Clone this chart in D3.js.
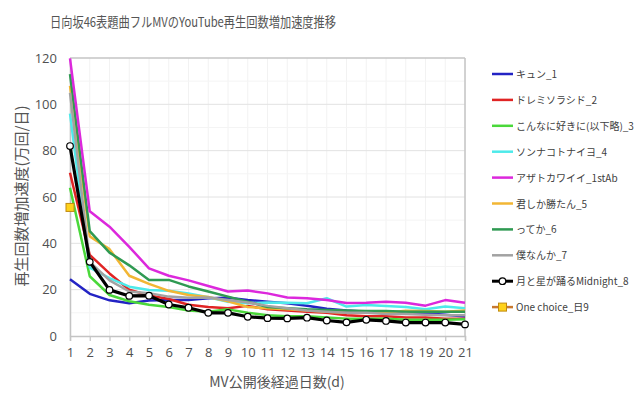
<!DOCTYPE html>
<html>
<head>
<meta charset="utf-8">
<script src="https://cdn.jsdelivr.net/npm/d3@7"></script>
<style>
  body { margin: 0; background: #fff; }
  text { font-family: "Noto Sans CJK JP", "Noto Sans", sans-serif; }
</style>
</head>
<body>
<script>
const WIDTH = 640;
const HEIGHT = 399;

// days after MV release
var days = d3.range(1, 22);
var yTicks = [0, 20, 40, 60, 80, 100, 120];

var names = ['キュン_1', 'ドレミソラシド_2', 'こんなに好きに(以下略)_3', 'ソンナコトナイヨ_4',
    'アザトカワイイ_1stAb', '君しか勝たん_5', 'ってか_6', '僕なんか_7',
    '月と星が踊るMidnight_8', 'One choice_日9'];
var colors = ['#2323c4', '#e02424', '#4ad83a', '#4eeaea', '#dc28dc', '#f2b634',
    '#2f9a52', '#a2a2a2', '#000000', '#c8782e'];

var kyun = [24.5, 18.2, 15.4, 14.1, 15.3, 15.5, 15.5, 16.3, 16.5, 15.5, 14.8, 14.1, 13.1, 11.8, 11.0, 10.5, 10.0, 9.8, 9.8, 9.2, 8.4];
var doremi = [70.5, 35, 27, 20, 17.5, 16, 13.5, 12.5, 12, 13, 11.5, 11, 10.5, 10, 9, 8.5, 8.5, 8, 8, 7.5, 7.5];
var konnani = [64, 25.8, 17.7, 15, 13.5, 12.5, 11, 10.5, 11.5, 10, 9, 8.5, 8.5, 8, 7.5, 7.5, 7.5, 7, 7, 7, 7.2];
var sonna = [96, 29.5, 25, 21.3, 19.9, 19.5, 18.4, 16.7, 14.8, 14.1, 14.5, 14.3, 14.1, 16.3, 12.7, 13.4, 12.9, 12.5, 11.5, 12.7, 12.0];
var azato = [119.8, 53.8, 47.2, 38.5, 29.2, 26, 24, 21.6, 19.2, 19.6, 18.4, 16.6, 16.3, 15.5, 14.2, 14.4, 14.8, 14.4, 13.1, 15.5, 14.4];
var kimishika = [108, 43, 37.5, 26, 22.5, 19.5, 17.7, 16.8, 15, 12.5, 12, 11.5, 11, 10.5, 10, 10, 10, 10.9, 10.8, 10.5, 11];
var tteka = [113, 45.3, 36, 30.5, 24.2, 24.2, 21.4, 19.2, 17, 14.8, 12.5, 12, 11.5, 11.2, 11, 10.8, 10.8, 10.5, 10.5, 10.5, 10.5];
var bokunanka = [105, 32, 24, 19.2, 18.5, 17, 16.5, 16.6, 15.5, 14.5, 13, 12, 11, 10.5, 10, 10, 9.5, 9.5, 9.2, 9, 9];
var tsukito = [82, 32, 19.9, 17.3, 17.4, 13.6, 12.2, 10, 10, 8.3, 7.7, 7.6, 7.9, 6.7, 5.9, 7, 6.5, 5.8, 5.8, 5.8, 5.0];
var onechoice = [55.5];

var seriesValues = [kyun, doremi, konnani, sonna, azato, kimishika, tteka, bokunanka, tsukito, onechoice];

var margin = { left: 70, right: 175, top: 58, bottom: 63 };

var svg = d3.select('body')
    .append('svg')
    .attr('width', WIDTH)
    .attr('height', HEIGHT);

var x = d3.scalePoint()
    .domain(days)
    .range([margin.left, WIDTH - margin.right]);

var y = d3.scaleLinear()
    .domain([0, 120])
    .range([HEIGHT - margin.bottom, margin.top]);

// title
svg.append('text')
    .attr('x', 50)
    .attr('y', 27)
    .attr('font-size', 13.5)
    .attr('fill', '#555')
    .attr('textLength', 286)
    .attr('lengthAdjust', 'spacingAndGlyphs')
    .text('日向坂46表題曲フルMVのYouTube再生回数増加速度推移');

// minor grid
svg.append('g')
    .selectAll('line')
    .data(days)
    .enter()
    .append('line')
    .attr('x1', function(d) { return x(d); })
    .attr('x2', function(d) { return x(d); })
    .attr('y1', y(0))
    .attr('y2', y(120))
    .attr('stroke', '#f2f2f2');

svg.append('g')
    .selectAll('line')
    .data(d3.range(10, 120, 20))
    .enter()
    .append('line')
    .attr('x1', x(1))
    .attr('x2', x(21))
    .attr('y1', function(d) { return y(d); })
    .attr('y2', function(d) { return y(d); })
    .attr('stroke', '#f4f4f4');

// major grid
svg.append('g')
    .selectAll('line')
    .data(yTicks.slice(1))
    .enter()
    .append('line')
    .attr('x1', x(1))
    .attr('x2', x(21))
    .attr('y1', function(d) { return y(d); })
    .attr('y2', function(d) { return y(d); })
    .attr('stroke', function(d) { return d === 120 ? '#c4c4c4' : '#e2e2e2'; })
    .attr('stroke-width', function(d) { return d === 120 ? 1.5 : 1; });

// right border
svg.append('line')
    .attr('x1', x(21)).attr('x2', x(21))
    .attr('y1', y(0)).attr('y2', y(120))
    .attr('stroke', '#c4c4c4')
    .attr('stroke-width', 1.5);

// y axis
var yAxis = svg.append('g')
    .attr('transform', 'translate(' + x(1) + ',0)')
    .call(d3.axisLeft(y).tickValues(yTicks).tickSize(0).tickPadding(13));
yAxis.select('.domain').attr('stroke', '#c4c4c4').attr('stroke-width', 1.5);
yAxis.selectAll('text')
    .attr('font-size', 13)
    .attr('fill', '#505050')
    .style('font-family', '"Open Sans", sans-serif');

// x axis
var xAxis = svg.append('g')
    .attr('transform', 'translate(0,' + y(0) + ')')
    .call(d3.axisBottom(x).tickSize(5).tickPadding(7));
xAxis.select('.domain').attr('stroke', '#c4c4c4').attr('stroke-width', 1.5);
xAxis.selectAll('.tick line').attr('stroke', '#c4c4c4').attr('stroke-width', 1.2);
xAxis.selectAll('text')
    .attr('font-size', 13)
    .attr('fill', '#505050')
    .style('font-family', '"Open Sans", sans-serif');

// axis titles
svg.append('text')
    .attr('x', 277)
    .attr('y', 387)
    .attr('text-anchor', 'middle')
    .attr('font-size', 14)
    .attr('fill', '#555')
    .text('MV公開後経過日数(d)');

svg.append('text')
    .attr('transform', 'translate(27,' + 196 + ') rotate(-90)')
    .attr('text-anchor', 'middle')
    .attr('font-size', 15)
    .attr('fill', '#555')
    .text('再生回数増加速度(万回/日)');

// lines
var line = d3.line()
    .x(function(d, i) { return x(days[i]); })
    .y(function(d) { return y(d); });

var order = [0, 1, 2, 3, 5, 6, 7, 4, 8, 9];
order.forEach(function(k) {
    var vals = seriesValues[k];
    if (vals.length > 1) {
        svg.append('path')
            .datum(vals)
            .attr('d', line)
            .attr('fill', 'none')
            .attr('stroke', colors[k])
            .attr('stroke-width', k === 8 ? 3.2 : 2.5)
            .attr('stroke-linejoin', 'round');
    }
});

// markers for Midnight_8
svg.append('g')
    .selectAll('circle')
    .data(tsukito)
    .enter()
    .append('circle')
    .attr('cx', function(d, i) { return x(days[i]); })
    .attr('cy', function(d) { return y(d); })
    .attr('r', 3.3)
    .attr('fill', '#fff')
    .attr('stroke', '#000')
    .attr('stroke-width', 1.2);

// markers for One choice
svg.append('g')
    .selectAll('rect')
    .data(onechoice)
    .enter()
    .append('rect')
    .attr('x', function(d, i) { return x(days[i]) - 4; })
    .attr('y', function(d) { return y(d) - 4; })
    .attr('width', 8)
    .attr('height', 8)
    .attr('fill', '#ffd21a')
    .attr('stroke', '#c08a10')
    .attr('stroke-width', 1);

// legend
var legend = svg.append('g')
    .selectAll('g')
    .data(names)
    .enter()
    .append('g')
    .attr('transform', function(d, i) { return 'translate(492,' + (74 + i * 25.9) + ')'; });

legend.append('line')
    .attr('x1', 0)
    .attr('x2', 21)
    .attr('stroke', function(d, i) { return colors[i]; })
    .attr('stroke-width', function(d, i) { return i === 8 ? 3 : 2.5; });

legend.filter(function(d, i) { return i === 8; })
    .append('circle')
    .attr('cx', 10.5)
    .attr('r', 3.3)
    .attr('fill', '#fff')
    .attr('stroke', '#000')
    .attr('stroke-width', 1.2);

legend.filter(function(d, i) { return i === 9; })
    .append('rect')
    .attr('x', 6.5)
    .attr('y', -4)
    .attr('width', 8)
    .attr('height', 8)
    .attr('fill', '#ffd21a')
    .attr('stroke', '#c08a10');

legend.append('text')
    .attr('x', 24)
    .attr('y', 4)
    .attr('font-size', 10)
    .attr('fill', '#404040')
    .text(function(d) { return d; });
</script>
</body>
</html>
